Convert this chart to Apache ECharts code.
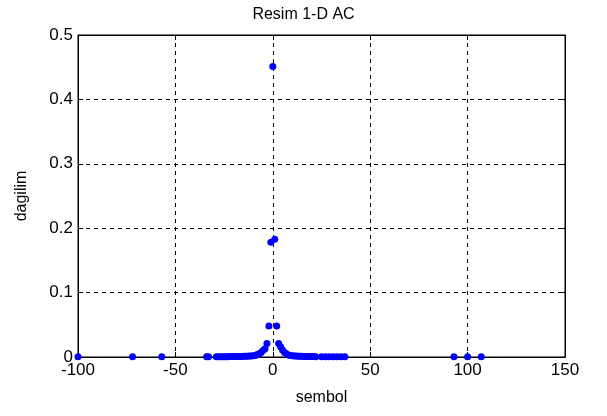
<!DOCTYPE html>
<html>
<head>
<meta charset="utf-8">
<script src="https://cdn.jsdelivr.net/npm/echarts@6/dist/echarts.min.js"></script>
<style>html,body{margin:0;padding:0;background:#fff;}#c{width:607px;height:416px;}</style>
</head>
<body>
<div id="c"></div>
<script>
var title = "Resim 1-D AC";
var xLabel = "sembol";
var yLabel = "dagilim";
var symbols = [-100, -72, -57, -34, -33,
  -29, -28, -27, -26, -25, -24, -23, -22, -21, -20, -19, -18, -17, -16, -15, -14, -13, -12, -11, -10, -9,
  -8, -7, -6, -5, -4, -3, -2, -1, 0, 1, 2, 3, 4, 5, 6, 7, 8,
  9, 10, 11, 12, 13, 14, 15, 16, 17, 18, 19, 20, 21, 22,
  25, 27, 29, 31, 33, 35, 37,
  93, 100, 107];
var probs = [0.0003, 0.0003, 0.0003, 0.0004, 0.0004,
  0.0004, 0.0004, 0.0004, 0.0005, 0.0005, 0.0005, 0.0005, 0.0006, 0.0006, 0.0007, 0.0007, 0.0008, 0.0008, 0.0009, 0.001, 0.001, 0.0012, 0.0014, 0.0016, 0.002, 0.0025,
  0.004, 0.005, 0.007, 0.010, 0.013, 0.021, 0.048, 0.178, 0.451, 0.183, 0.048, 0.021, 0.016, 0.011, 0.007, 0.005, 0.003,
  0.0025, 0.002, 0.0016, 0.0014, 0.0012, 0.001, 0.001, 0.0009, 0.0008, 0.0007, 0.0007, 0.0006, 0.0006, 0.0005,
  0.0005, 0.0004, 0.0004, 0.0004, 0.0004, 0.0003, 0.0003,
  0.0003, 0.0003, 0.0003];
var xTicks = [-100, -50, 0, 50, 100, 150];
var yTicks = [0, 0.1, 0.2, 0.3, 0.4, 0.5];

var pts = symbols.map(function (s, i) { return [s, probs[i]]; });
var font = "'Liberation Sans', Arial, Helvetica, sans-serif";
var grid = { left: 78, right: 42, top: 35, bottom: 59 };
var dash = { color: '#000', width: 1, type: [4, 4] };
var fs = 17;

var chart = echarts.init(document.getElementById('c'), null, { renderer: 'canvas' });
chart.setOption({
  animation: false,
  backgroundColor: '#fff',
  title: {
    text: title, left: 'center', top: 2,
    textStyle: { fontFamily: font, fontSize: 16, fontWeight: 'normal', color: '#000' }
  },
  grid: Object.assign({ show: true, borderColor: '#000', borderWidth: 1, backgroundColor: '#fff' }, grid),
  xAxis: [{
    type: 'value', min: xTicks[0], max: xTicks[xTicks.length - 1], interval: 50,
    name: xLabel, nameLocation: 'middle', nameGap: 33,
    nameTextStyle: { fontFamily: font, fontSize: 16, color: '#000' },
    axisLine: { show: true, onZero: false, lineStyle: { color: '#000', width: 1 } },
    axisTick: { show: true, inside: true, length: 5, lineStyle: { color: '#000' } },
    axisLabel: { fontFamily: font, fontSize: fs, color: '#000', margin: 5 },
    splitLine: { show: true, lineStyle: dash }
  }, {
    type: 'value', position: 'top', min: xTicks[0], max: xTicks[xTicks.length - 1], interval: 50,
    axisLine: { show: true, onZero: false, lineStyle: { color: '#000', width: 1 } },
    axisTick: { show: true, inside: true, length: 5, lineStyle: { color: '#000' } },
    axisLabel: { show: false }, splitLine: { show: false }
  }],
  yAxis: [{
    type: 'value', min: 0, max: 0.5, interval: 0.1,
    name: yLabel, nameLocation: 'middle', nameGap: 48, nameRotate: 90,
    nameTextStyle: { fontFamily: font, fontSize: 16, color: '#000' },
    axisLine: { show: true, onZero: false, lineStyle: { color: '#000', width: 1 } },
    axisTick: { show: true, inside: true, length: 5, lineStyle: { color: '#000' } },
    axisLabel: { fontFamily: font, fontSize: fs, color: '#000', margin: 5,
      formatter: function (v) { return v === 0 ? '0' : v.toFixed(1); } },
    splitLine: { show: true, lineStyle: dash }
  }, {
    type: 'value', position: 'right', min: 0, max: 0.5, interval: 0.1,
    axisLine: { show: true, onZero: false, lineStyle: { color: '#000', width: 1 } },
    axisTick: { show: true, inside: true, length: 5, lineStyle: { color: '#000' } },
    axisLabel: { show: false }, splitLine: { show: false }
  }],
  series: [{
    type: 'scatter', xAxisIndex: 0, yAxisIndex: 0,
    data: pts, symbol: 'circle', symbolSize: 7, clip: false,
    itemStyle: { color: '#0000ff', opacity: 1 }
  }]
});
</script>
</body>
</html>
